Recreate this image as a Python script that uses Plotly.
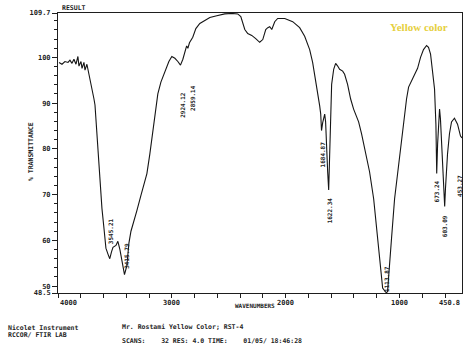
import plotly.graph_objects as go

# Wavenumber (cm-1) and % transmittance
wavenumber = [3991, 3965, 3939, 3912, 3895, 3877, 3860, 3842, 3825, 3816, 3798, 3789, 3772, 3763,
              3746, 3737, 3719, 3702, 3684, 3675, 3667, 3658, 3649, 3640, 3632, 3614, 3596, 3579,
              3561, 3545, 3530, 3517, 3491, 3474, 3456, 3438, 3416, 3395, 3377, 3359, 3333, 3307,
              3272, 3237, 3219, 3193, 3166, 3149, 3123, 3096, 3061, 3026, 3000, 2973, 2947, 2924,
              2903, 2877, 2870, 2859, 2845, 2816, 2789, 2754, 2710, 2666, 2605, 2535, 2473, 2421,
              2394, 2377, 2359, 2333, 2298, 2263, 2228, 2201, 2175, 2157, 2140, 2122, 2096, 2070,
              2008, 1938, 1877, 1833, 1789, 1763, 1745, 1728, 1710, 1701, 1692, 1685, 1675, 1666,
              1657, 1649, 1640, 1631, 1622, 1613, 1605, 1596, 1578, 1561, 1543, 1526, 1499, 1482,
              1456, 1429, 1403, 1377, 1359, 1333, 1298, 1263, 1227, 1201, 1175, 1148, 1122, 1114,
              1105, 1087, 1070, 1043, 1017, 990, 964, 938, 920, 894, 868, 841, 815, 789, 762, 745,
              727, 710, 692, 680, 673, 665, 657, 648, 640, 622, 613, 603, 596, 578, 561, 543, 517,
              490, 464, 451]
transmittance = [98.9, 98.5, 99.1, 98.9, 99.4, 98.7, 99.6, 98.5, 100.2, 98.1, 99.1, 97.6, 98.9, 97.2,
                 98.5, 97.4, 95.9, 93.1, 90.9, 89.6, 86.5, 82.6, 78.9, 75.7, 71.7, 67.0, 62.6, 58.3,
                 57.0, 56.0, 57.5, 58.5, 58.9, 59.8, 58.0, 55.3, 52.5, 54.5, 59.4, 62.0, 64.1, 66.5,
                 69.8, 73.1, 74.6, 78.9, 84.4, 87.6, 92.0, 94.6, 96.8, 99.1, 100.2, 99.8, 99.1, 98.3,
                 99.6, 102.2, 102.5, 102.0, 103.2, 104.4, 106.3, 107.4, 108.0, 108.7, 109.1, 109.5, 109.6, 109.5,
                 108.9, 107.6, 106.1, 105.2, 104.8, 104.1, 103.3, 103.9, 106.1, 106.5, 106.7, 106.1, 107.8, 108.5,
                 108.5, 107.8, 106.5, 104.6, 101.7, 98.9, 96.3, 93.1, 90.9, 89.4, 87.6, 84.0, 85.7, 87.2,
                 87.6, 85.9, 78.9, 75.0, 71.0, 78.9, 87.6, 94.1, 97.4, 98.7, 98.1, 97.4, 97.0, 96.3,
                 94.1, 90.9, 88.7, 87.0, 85.9, 83.3, 79.4, 75.0, 69.1, 62.6, 55.0, 49.6, 48.7, 48.6,
                 48.8, 53.9, 60.4, 69.1, 74.6, 79.6, 84.4, 90.9, 93.5, 94.8, 95.9, 97.6, 100.0, 101.7, 102.6, 102.2,
                 100.7, 97.4, 93.1, 85.4, 74.6, 81.1, 86.0, 88.7, 86.5, 77.0, 71.3, 67.4, 71.3, 78.9, 83.3, 85.9, 86.7,
                 85.4, 82.8, 82.4]

# Peak annotations: (label, wavenumber position, %T position)
peak_labels = ["3545.21", "3415.79", "2924.12", "2859.14", "1684.87", "1622.34",
               "1113.87", "673.24", "603.09", "453.27"]
peak_x = [3544, 3400, 2903, 2824, 1680, 1613, 1113, 675, 604, 473]
peak_y = [62.0, 56.7, 89.6, 91.1, 78.8, 66.5, 51.5, 70.8, 63.0, 72.0]

y_major = [48.5, 50, 60, 70, 80, 90, 100, 109.7]
y_major_text = ["48.5", "50", "60", "70", "80", "90", "100", "109.7"]
x_ticks = list(range(4000, 450, -200))

INK = "#1e1e1e"
TXT = dict(family="DejaVu Sans Mono", size=7, color=INK, weight="bold")

fig = go.Figure()
fig.add_trace(go.Scatter(x=wavenumber, y=transmittance, mode="lines",
                         line=dict(color="#151515", width=1.1), showlegend=False,
                         hoverinfo="skip"))

fig.update_xaxes(range=[4000, 450.8], showgrid=False, zeroline=False,
                 showline=True, mirror=True, linecolor=INK, linewidth=1,
                 tickmode="array", tickvals=x_ticks, ticktext=[""] * len(x_ticks),
                 ticks="outside", ticklen=4, tickcolor=INK)
fig.update_yaxes(range=[48.5, 109.7], showgrid=False, zeroline=False,
                 showline=True, mirror=True, linecolor=INK, linewidth=1,
                 tickmode="array", tickvals=y_major, ticktext=y_major_text,
                 ticks="outside", ticklen=5, tickcolor=INK, tickfont=TXT,
                 minor=dict(tickvals=list(range(50, 110, 2)), ticks="outside",
                            ticklen=3, tickcolor=INK))

ann = []
# x-axis tick labels
for val, txt, anchor in [(4000, "4000", "left"), (3000, "3000", "center"),
                         (2000, "2000", "center"), (1000, "1000", "center"),
                         (450.8, "450.8", "right")]:
    ann.append(dict(x=val, y=-0.015, xref="x", yref="paper", text=txt, showarrow=False,
                    xanchor=anchor, yanchor="top", font=TXT))
# peak labels
for t, px, py in zip(peak_labels, peak_x, peak_y):
    ann.append(dict(x=px, y=py, xref="x", yref="y", text=t, showarrow=False,
                    textangle=-90, font=dict(family="DejaVu Sans Mono", size=6,
                                             color=INK, weight="bold")))

W0, W1 = 58, 462.5
H0, H1 = 9, 293
def px(x):
    return (x - W0) / (W1 - W0)
def py(y):
    return (H1 - y) / (H1 - H0)

texts = [
    ("RESULT", 60, 4, "left", 0, 6.5),
    ("% TRANSMITTANCE", 31, 150, "center", -90, 6.5),
    ("WAVENUMBERS", 277, 306, "right", 0, 6),
    ("Nicolet Instrument", 6, 328, "left", 0, 6.5),
    ("RCCOR/ FTIR LAB", 6, 336, "left", 0, 6.5),
    ("Mr. Rostami Yellow Color; RST-4", 120, 327, "left", 0, 6.5),
    ("SCANS:    32 RES: 4.0 TIME:    01/05/ 18:46:28", 120, 342, "left", 0, 6.5),
]
for t, x, y, anchor, ang, sz in texts:
    ann.append(dict(x=px(x), y=py(y), xref="paper", yref="paper", text=t,
                    showarrow=False, xanchor=anchor, yanchor="middle",
                    textangle=ang, font=dict(family="DejaVu Sans Mono", size=sz,
                                             color=INK, weight="bold")))
ann.append(dict(x=px(419), y=py(23), xref="paper", yref="paper", text="Yellow color",
                showarrow=False, xanchor="center", yanchor="middle",
                font=dict(family="Liberation Serif", size=11, color="#e6d040",
                          weight="bold")))

fig.update_layout(width=474, height=351, paper_bgcolor="white", plot_bgcolor="white",
                  margin=dict(l=W0, r=474 - W1, t=H0, b=351 - H1),
                  annotations=ann, showlegend=False)

fig.write_html("out.html")
